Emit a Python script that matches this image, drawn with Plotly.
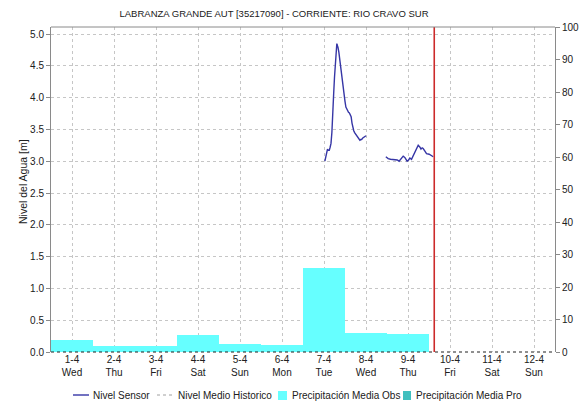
import plotly.graph_objects as go

# --- Daily precipitation (mm), plotted at noon of each day -------------------
precip_days = ["2020-04-01 12:00", "2020-04-02 12:00", "2020-04-03 12:00",
               "2020-04-04 12:00", "2020-04-05 12:00", "2020-04-06 12:00",
               "2020-04-07 12:00", "2020-04-08 12:00", "2020-04-09 12:00"]
precip_obs = [3.6, 2.0, 1.7, 5.1, 2.4, 2.1, 26.0, 5.8, 5.4]

# --- Water level sensor readings (m) -----------------------------------------
sensor_times = [
    "2020-04-07 12:30", "2020-04-07 13:00", "2020-04-07 13:30", "2020-04-07 14:00",
    "2020-04-07 14:30", "2020-04-07 15:00", "2020-04-07 15:30", "2020-04-07 16:00",
    "2020-04-07 16:30", "2020-04-07 17:00", "2020-04-07 17:30", "2020-04-07 18:00",
    "2020-04-07 18:30", "2020-04-07 19:00", "2020-04-07 19:20", "2020-04-07 19:30",
    "2020-04-07 20:00", "2020-04-07 20:30", "2020-04-07 21:00", "2020-04-07 21:30",
    "2020-04-07 22:00", "2020-04-07 22:30", "2020-04-07 23:00", "2020-04-07 23:30",
    "2020-04-08 00:00", "2020-04-08 00:30", "2020-04-08 01:00", "2020-04-08 01:30",
    "2020-04-08 02:00", "2020-04-08 02:30", "2020-04-08 03:00", "2020-04-08 03:30",
    "2020-04-08 04:00", "2020-04-08 04:30", "2020-04-08 05:00", "2020-04-08 05:30",
    "2020-04-08 06:00", "2020-04-08 06:30", "2020-04-08 07:00", "2020-04-08 07:30",
    "2020-04-08 08:00", "2020-04-08 08:30", "2020-04-08 09:00", "2020-04-08 09:30",
    "2020-04-08 10:00", "2020-04-08 10:30", "2020-04-08 11:00", "2020-04-08 11:30",
    "2020-04-08 12:00",
    "2020-04-08 18:00",  # gap in transmission
    "2020-04-08 23:20", "2020-04-09 00:40", "2020-04-09 02:00", "2020-04-09 03:30",
    "2020-04-09 05:50", "2020-04-09 06:55", "2020-04-09 07:45", "2020-04-09 08:30",
    "2020-04-09 09:15", "2020-04-09 10:10", "2020-04-09 10:45", "2020-04-09 11:30",
    "2020-04-09 12:20", "2020-04-09 13:05", "2020-04-09 14:00", "2020-04-09 14:55",
    "2020-04-09 15:55", "2020-04-09 16:55", "2020-04-09 17:50", "2020-04-09 18:50",
    "2020-04-09 19:25", "2020-04-09 20:05", "2020-04-09 20:40", "2020-04-09 21:40",
    "2020-04-09 22:35", "2020-04-10 00:05", "2020-04-10 01:30", "2020-04-10 02:25",
]
sensor_level = [
    3.00, 3.08, 3.15, 3.19,
    3.17, 3.17, 3.22, 3.28,
    3.45, 3.67, 4.05, 4.32,
    4.57, 4.76, 4.85, 4.83,
    4.79, 4.71, 4.59, 4.47,
    4.33, 4.24, 4.14, 4.03,
    3.94, 3.85, 3.82, 3.79,
    3.77, 3.76, 3.73, 3.70,
    3.60, 3.52, 3.48, 3.45,
    3.43, 3.40, 3.38, 3.36,
    3.34, 3.33, 3.34, 3.34,
    3.36, 3.37, 3.38, 3.39,
    3.40,
    None,
    3.07, 3.04, 3.03, 3.03,
    3.02, 3.00, 3.03, 3.05,
    3.08, 3.06, 3.03, 3.00,
    3.02, 3.05, 3.03, 3.08,
    3.15, 3.21, 3.25, 3.22,
    3.19, 3.21, 3.20, 3.16,
    3.12, 3.11, 3.08, 3.07,
]

current_time = "2020-04-10 03:00"
x_start, x_end = "2020-04-01 00:00", "2020-04-13 00:00"
tick_noons = ["2020-04-%02d 12:00" % d for d in range(1, 13)]
tick_text = ["1-4<br>Wed", "2-4<br>Thu", "3-4<br>Fri", "4-4<br>Sat", "5-4<br>Sun",
             "6-4<br>Mon", "7-4<br>Tue", "8-4<br>Wed", "9-4<br>Thu", "10-4<br>Fri",
             "11-4<br>Sat", "12-4<br>Sun"]

legend_names = ["Nivel Sensor", "Nivel Medio Historico",
                "Precipitación Media Obs", "Precipitación Media Pro"]

FONT = "Liberation Sans, Arial, sans-serif"
LINE_BLUE = "#3636a6"
OBS_CYAN = "#66ffff"
PRO_TEAL = "#3fbfbf"
GRID = "#c6c6c6"
AXIS = "#8a8a8a"

W, H = 582, 403
ML, MR, MT, MB = 51, 27, 27, 51
PW, PH = W - ML - MR, H - MT - MB


def px_x(px):
    return (px - ML) / PW


def px_y(py):
    return (H - MB - py) / PH


fig = go.Figure()

fig.add_trace(go.Bar(
    x=precip_days, y=precip_obs, width=86400000, yaxis="y2",
    marker=dict(color=OBS_CYAN, line=dict(width=0)),
    name=legend_names[2], showlegend=False,
))

fig.add_trace(go.Scatter(
    x=sensor_times, y=sensor_level, mode="lines", connectgaps=False,
    line=dict(color=LINE_BLUE, width=1.4),
    name=legend_names[0], showlegend=False,
))

shapes = [
    # current time marker
    dict(type="line", xref="x", yref="paper", x0=current_time, x1=current_time,
         y0=0, y1=1, line=dict(color="#cc2a2a", width=1.6), layer="above"),
    # frame top and dotted base line
    dict(type="line", xref="paper", yref="paper", x0=0, x1=1, y0=1, y1=1,
         line=dict(color=AXIS, width=1)),
    dict(type="line", xref="paper", yref="paper", x0=0, x1=1, y0=0, y1=0,
         line=dict(color="#202020", width=1, dash="dot"), layer="above"),
]

# hand-placed legend row
ly = px_y(395)
shapes += [
    dict(type="line", xref="paper", yref="paper", x0=px_x(73), x1=px_x(89),
         y0=ly, y1=ly, line=dict(color=LINE_BLUE, width=1.4)),
    dict(type="line", xref="paper", yref="paper", x0=px_x(157), x1=px_x(173),
         y0=ly, y1=ly, line=dict(color="#a0a0a0", width=1, dash="dot")),
    dict(type="rect", xref="paper", yref="paper", x0=px_x(278), x1=px_x(287),
         y0=px_y(400), y1=px_y(391), line=dict(width=0), fillcolor=OBS_CYAN),
    dict(type="rect", xref="paper", yref="paper", x0=px_x(403), x1=px_x(411),
         y0=px_y(400), y1=px_y(391), line=dict(width=0), fillcolor=PRO_TEAL),
]

legend_x = [91, 176, 290, 414]
annotations = [
    dict(text=name, xref="paper", yref="paper", x=px_x(lx), y=ly,
         xanchor="left", yanchor="middle", showarrow=False,
         font=dict(family=FONT, size=10, color="#202020"))
    for name, lx in zip(legend_names, legend_x)
]
annotations.append(dict(
    text="Nivel del Agua [m]", xref="paper", yref="paper",
    x=px_x(23), y=px_y(182), textangle=-90, showarrow=False,
    xanchor="center", yanchor="middle",
    font=dict(family=FONT, size=10.5, color="#202020"),
))

fig.update_layout(
    width=W, height=H,
    margin=dict(l=ML, r=MR, t=MT, b=MB, autoexpand=False),
    paper_bgcolor="white", plot_bgcolor="white",
    showlegend=False,
    bargap=0,
    title=dict(text="LABRANZA GRANDE AUT [35217090] - CORRIENTE: RIO CRAVO SUR",
               xref="container", x=274 / W, xanchor="center",
               yref="container", y=1 - 14 / H, yanchor="middle",
               font=dict(family=FONT, size=9.5, color="#202020")),
    font=dict(family=FONT, size=10, color="#202020"),
    xaxis=dict(
        type="date", range=[x_start, x_end], automargin=False,
        tickmode="array", tickvals=tick_noons, ticktext=tick_text,
        showgrid=True, gridcolor=GRID, griddash="dot", gridwidth=1,
        showline=False, ticks="", zeroline=False,
        tickfont=dict(family=FONT, size=10, color="#202020"),
    ),
    yaxis=dict(
        range=[0, 5.11], tickmode="linear", tick0=0, dtick=0.5, tickformat=".1f",
        automargin=False,
        showgrid=True, gridcolor=GRID, griddash="dot", gridwidth=1,
        showline=True, linecolor=AXIS, linewidth=1,
        ticks="outside", ticklen=4, tickcolor=AXIS, zeroline=False,
        tickfont=dict(family=FONT, size=10, color="#202020"),
    ),
    yaxis2=dict(
        range=[0, 100], tickmode="linear", tick0=0, dtick=10, automargin=False,
        overlaying="y", side="right", showgrid=False,
        showline=True, linecolor=AXIS, linewidth=1,
        ticks="outside", ticklen=4, tickcolor=AXIS, zeroline=False,
        tickfont=dict(family=FONT, size=10, color="#202020"),
    ),
    shapes=shapes,
    annotations=annotations,
)

fig.write_html("out.html")
